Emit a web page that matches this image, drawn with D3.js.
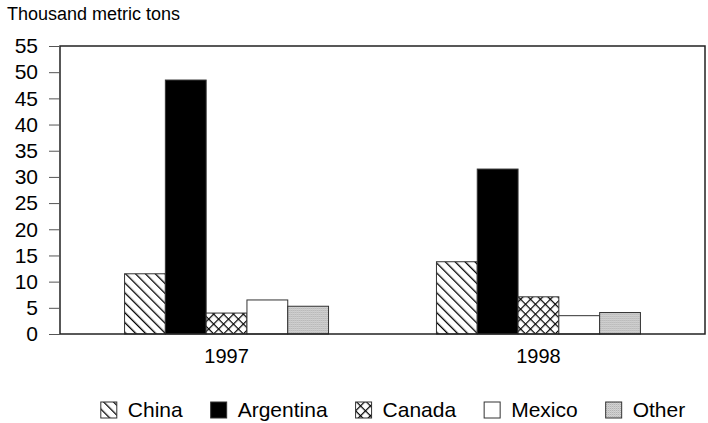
<!DOCTYPE html>
<html>
<head>
<meta charset="utf-8">
<script src="https://cdn.jsdelivr.net/npm/d3@7"></script>
<style>
  body { margin: 0; background: #fff; }
  text { font-family: "Liberation Sans", Arial, sans-serif; fill: #000; }
</style>
</head>
<body>
<div id="chart"></div>
<script>
'use strict';

// data
const years = ["1997", "1998"];
const series = ["China", "Argentina", "Canada", "Mexico", "Other"];
const china = [11.5, 13.8];
const argentina = [48.5, 31.5];
const canada = [4.0, 7.1];
const mexico = [6.5, 3.5];
const other = [5.3, 4.1];
const yTicks = [0, 5, 10, 15, 20, 25, 30, 35, 40, 45, 50, 55];
const unitLabel = "Thousand metric tons";

const values = [china, argentina, canada, mexico, other];

const width = 708, height = 423;
const margin = { top: 46, right: 3, bottom: 89, left: 60 };
const w = width - margin.left - margin.right,
      h = height - margin.top - margin.bottom;

const svg = d3.select("#chart").append("svg")
    .attr("width", width)
    .attr("height", height);

// patterns
const defs = svg.append("defs");

let p = defs.append("pattern").attr("id", "pat-china")
    .attr("patternUnits", "userSpaceOnUse")
    .attr("width", 7).attr("height", 7)
    .attr("patternTransform", "rotate(-45)");
p.append("rect").attr("width", 7).attr("height", 7).attr("fill", "#fff");
p.append("line").attr("x1", 0).attr("y1", 0).attr("x2", 0).attr("y2", 7)
    .attr("stroke", "#000").attr("stroke-width", 2.6);

p = defs.append("pattern").attr("id", "pat-canada")
    .attr("patternUnits", "userSpaceOnUse")
    .attr("width", 7).attr("height", 7)
    .attr("patternTransform", "rotate(45)");
p.append("rect").attr("width", 7).attr("height", 7).attr("fill", "#fff");
p.append("line").attr("x1", 0).attr("y1", 0).attr("x2", 0).attr("y2", 7)
    .attr("stroke", "#000").attr("stroke-width", 2.4);
p.append("line").attr("x1", 0).attr("y1", 0).attr("x2", 7).attr("y2", 0)
    .attr("stroke", "#000").attr("stroke-width", 2.4);

p = defs.append("pattern").attr("id", "pat-other")
    .attr("patternUnits", "userSpaceOnUse")
    .attr("width", 2).attr("height", 2);
p.append("rect").attr("width", 2).attr("height", 2).attr("fill", "#e4e4e4");
p.append("rect").attr("width", 1).attr("height", 1).attr("fill", "#9a9a9a");
p.append("rect").attr("x", 1).attr("y", 1).attr("width", 1).attr("height", 1).attr("fill", "#b8b8b8");

const fills = {
    China: "url(#pat-china)",
    Argentina: "#000",
    Canada: "url(#pat-canada)",
    Mexico: "#fff",
    Other: "url(#pat-other)"
};

const g = svg.append("g")
    .attr("transform", `translate(${margin.left},${margin.top})`);

const y = d3.scaleLinear().domain([0, 55]).range([h, 0]);
const x0 = d3.scaleBand().domain(years).range([0, w])
    .paddingInner(0.346).paddingOuter(0.207);
const x1 = d3.scaleBand().domain(series).range([0, x0.bandwidth()]);

// bars
years.forEach((yr, yi) => {
    const grp = g.append("g").attr("transform", `translate(${x0(yr)},0)`);
    grp.selectAll("rect")
        .data(series.map((s, si) => ({ s: s, v: values[si][yi] })))
        .enter()
        .append("rect")
        .attr("x", d => x1(d.s))
        .attr("y", d => y(d.v))
        .attr("width", x1.bandwidth())
        .attr("height", d => h - y(d.v))
        .attr("fill", d => fills[d.s])
        .attr("stroke", "#333")
        .attr("stroke-width", 1);
});

// frame
g.append("rect")
    .attr("x", 0).attr("y", 0)
    .attr("width", w).attr("height", h)
    .attr("fill", "none")
    .attr("stroke", "#222")
    .attr("stroke-width", 1.5);

// y axis
const yAxis = g.append("g")
    .call(d3.axisLeft(y).tickValues(yTicks).tickSize(11).tickPadding(11));
yAxis.select(".domain").remove();
yAxis.selectAll("line").attr("stroke", "#555");
yAxis.selectAll("text")
    .style("font-size", "21px")
    .style("font-family", "'Liberation Sans', Arial, sans-serif")
    .attr("fill", "#000");

// x labels (no ticks)
g.selectAll(".xlab")
    .data(years)
    .enter()
    .append("text")
    .attr("class", "xlab")
    .attr("x", d => x0(d) + x0.bandwidth() / 2)
    .attr("y", h + 29)
    .attr("text-anchor", "middle")
    .style("font-size", "20px")
    .text(d => d);

// unit label
svg.append("text")
    .attr("x", 7)
    .attr("y", 20)
    .style("font-size", "18px")
    .text(unitLabel);

// legend
const leg = svg.append("g");
const sw = 16, gap = 11, itemGap = 28;
let cx = 0;
series.forEach(s => {
    const it = leg.append("g").attr("transform", `translate(${cx},0)`);
    it.append("rect")
        .attr("x", 0).attr("y", -sw / 2)
        .attr("width", sw).attr("height", sw)
        .attr("fill", fills[s])
        .attr("stroke", "#333").attr("stroke-width", 1);
    const t = it.append("text")
        .attr("x", sw + gap)
        .attr("y", 7)
        .style("font-size", "21px")
        .text(s);
    cx += sw + gap + t.node().getComputedTextLength() + itemGap;
});
cx -= itemGap;
leg.attr("transform", `translate(${393 - cx / 2},410)`);
</script>
</body>
</html>
